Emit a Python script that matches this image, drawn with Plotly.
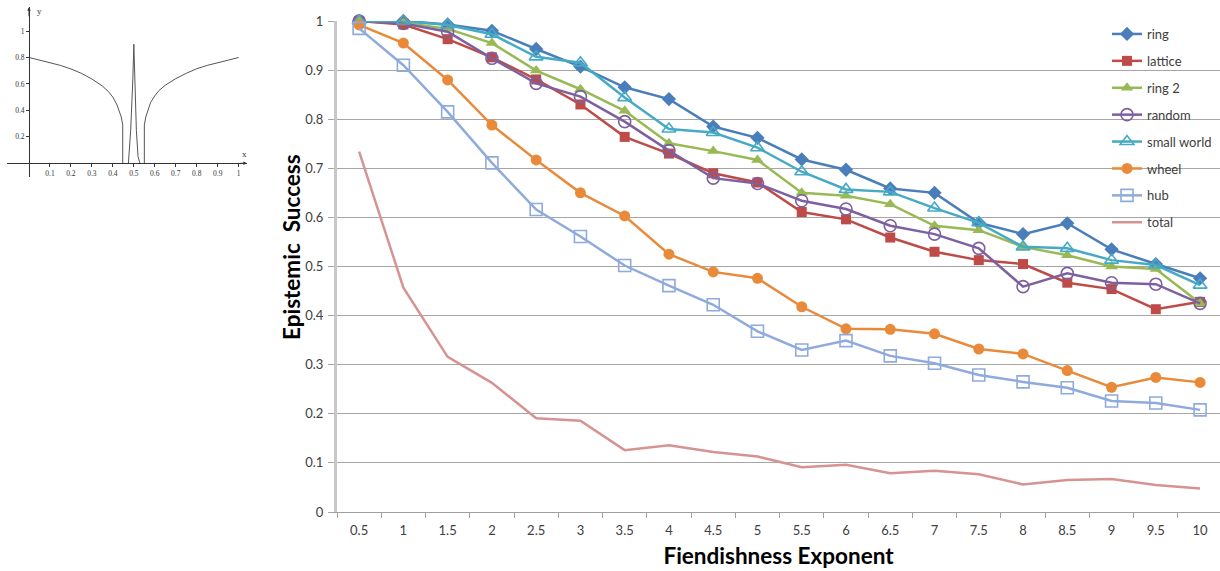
import plotly.graph_objects as go

# ---------------- data ----------------
exponents = ["0.5", "1", "1.5", "2", "2.5", "3", "3.5", "4", "4.5", "5",
             "5.5", "6", "6.5", "7", "7.5", "8", "8.5", "9", "9.5", "10"]

ring = [1.000, 1.000, 0.993, 0.980, 0.943, 0.907, 0.865, 0.841, 0.785, 0.762,
        0.718, 0.697, 0.659, 0.650, 0.589, 0.566, 0.588, 0.535, 0.505, 0.476]
lattice = [1.000, 0.993, 0.963, 0.926, 0.881, 0.830, 0.764, 0.730, 0.690, 0.671,
           0.611, 0.596, 0.559, 0.530, 0.513, 0.505, 0.467, 0.454, 0.413, 0.428]
ring2 = [1.000, 0.997, 0.984, 0.955, 0.899, 0.861, 0.817, 0.751, 0.735, 0.717,
         0.650, 0.644, 0.627, 0.583, 0.574, 0.540, 0.523, 0.500, 0.495, 0.425]
random_ = [1.000, 0.995, 0.978, 0.924, 0.873, 0.846, 0.795, 0.736, 0.680, 0.669,
           0.634, 0.617, 0.583, 0.566, 0.537, 0.459, 0.486, 0.467, 0.464, 0.425]
small_world = [1.000, 1.000, 0.992, 0.973, 0.927, 0.915, 0.844, 0.780, 0.773, 0.742,
               0.693, 0.657, 0.652, 0.619, 0.589, 0.540, 0.537, 0.513, 0.503, 0.462]
wheel = [0.992, 0.955, 0.880, 0.788, 0.717, 0.650, 0.603, 0.525, 0.489, 0.476,
         0.418, 0.373, 0.372, 0.363, 0.332, 0.322, 0.288, 0.254, 0.274, 0.264]
hub = [0.985, 0.910, 0.815, 0.711, 0.616, 0.561, 0.502, 0.461, 0.422, 0.368,
       0.330, 0.349, 0.318, 0.303, 0.279, 0.265, 0.253, 0.226, 0.222, 0.208]
total = [0.734, 0.457, 0.316, 0.263, 0.191, 0.186, 0.126, 0.136, 0.122, 0.113,
         0.091, 0.096, 0.079, 0.084, 0.077, 0.056, 0.065, 0.067, 0.055, 0.048]

# inset function curve
inset_left_x = [0.0, 0.05, 0.1, 0.15, 0.2, 0.25, 0.3, 0.35, 0.38, 0.4, 0.42, 0.43, 0.44, 0.447, 0.447]
inset_left_y = [0.80, 0.78, 0.761, 0.74, 0.713, 0.68, 0.637, 0.584, 0.54, 0.50, 0.44, 0.40, 0.35, 0.29, 0.0]
inset_spike_x = [0.474, 0.485, 0.495, 0.500, 0.505, 0.512, 0.52, 0.529]
inset_spike_y = [0.0, 0.25, 0.63, 0.90, 0.63, 0.25, 0.05, 0.0]
inset_right_x = [0.55, 0.55, 0.557, 0.57, 0.58, 0.6, 0.62, 0.65, 0.7, 0.75, 0.8, 0.85, 0.9, 0.95, 1.0]
inset_right_y = [0.0, 0.29, 0.35, 0.42, 0.46, 0.51, 0.55, 0.59, 0.64, 0.68, 0.715, 0.74, 0.762, 0.78, 0.80]
inset_xticks = [0.1, 0.2, 0.3, 0.4, 0.5, 0.6, 0.7, 0.8, 0.9, 1.0]
inset_yticks = [0.2, 0.4, 0.6, 0.8, 1.0]

W, H = 1220, 571
FONT = "Lato"
TXT = "#404040"

series = [
    ("ring", ring, "#4A7EBB", dict(symbol="diamond", size=11)),
    ("lattice", lattice, "#BE4B48", dict(symbol="square", size=10)),
    ("ring 2", ring2, "#98B954", dict(symbol="triangle-up", size=11)),
    ("random", random_, "#7D60A0", dict(symbol="circle-open", size=12, line=dict(width=1.6))),
    ("small world", small_world, "#46AAC5", dict(symbol="triangle-up-open", size=12, line=dict(width=1.6))),
    ("wheel", wheel, "#E98A3B", dict(symbol="circle", size=11)),
    ("hub", hub, "#8FAADC", dict(symbol="square-open", size=12, line=dict(width=1.6))),
]

fig = go.Figure()
for i, (name, vals, col, mk) in enumerate(series):
    mk = dict(mk)
    mk["color"] = col
    fig.add_trace(go.Scatter(x=exponents, y=vals, name=name, mode="lines+markers",
                             line=dict(color=col, width=2.5), marker=mk,
                             cliponaxis=False, legendgroup=f"g{i}"))
fig.add_trace(go.Scatter(x=exponents, y=total, name="total", mode="lines",
                         line=dict(color="#D69391", width=2.5),
                         cliponaxis=False, legendgroup="g7"))

# inset traces
for xs, ys in [(inset_left_x, inset_left_y), (inset_spike_x, inset_spike_y),
               (inset_right_x, inset_right_y)]:
    fig.add_trace(go.Scatter(x=xs, y=ys, xaxis="x2", yaxis="y2", mode="lines",
                             line=dict(color="#555555", width=1), showlegend=False,
                             hoverinfo="skip"))

px2x = lambda p: p / W
py2y = lambda p: (H - p) / H

fig.update_layout(
    width=W, height=H, autosize=False,
    margin=dict(l=0, r=0, t=0, b=0),
    paper_bgcolor="white", plot_bgcolor="white",
    font=dict(family=FONT, color=TXT, size=13),
    xaxis=dict(
        domain=[px2x(337), 1.0], type="category", range=[-0.5, 19.45],
        showgrid=False, showline=True, linecolor="#A0A0A0", linewidth=1,
        ticks="outside", tickson="boundaries", ticklen=5, tickcolor="#A0A0A0",
        tickfont=dict(size=13, color=TXT, family=FONT), ticklabelstandoff=6,
        title=dict(text="<b>Fiendishness Exponent</b>", font=dict(size=22.5, color="black", family=FONT),
                   standoff=11),
        zeroline=False, anchor="y", automargin=False,
    ),
    yaxis=dict(
        domain=[py2y(512), py2y(21)], range=[0, 1], tick0=0, dtick=0.1,
        showgrid=True, gridcolor="#A6A6A6", gridwidth=1,
        showline=True, linecolor="#C8C8C8", linewidth=3,
        ticks="outside", ticklen=6, tickcolor="#A6A6A6",
        tickfont=dict(size=13, color=TXT, family=FONT), ticklabelstandoff=2,
        zeroline=False, anchor="x", automargin=False,
    ),
    xaxis2=dict(
        domain=[px2x(6.7), px2x(247)], range=[-0.1063, 1.0396],
        anchor="free", position=py2y(163.3),
        showline=True, linecolor="#333333", linewidth=1, showgrid=False, zeroline=False,
        tickvals=inset_xticks, ticktext=[f"{v:g}" for v in inset_xticks],
        ticks="outside", ticklen=3, tickcolor="#333333",
        tickfont=dict(size=7.5, family="Liberation Serif", color="#333333"),
        automargin=False,
    ),
    yaxis2=dict(
        domain=[py2y(177), py2y(6.7)], range=[-0.1036, 1.1837],
        anchor="free", position=px2x(29),
        showline=True, linecolor="#333333", linewidth=1, showgrid=False, zeroline=False,
        tickvals=inset_yticks, ticktext=[f"{v:g}" for v in inset_yticks],
        ticks="outside", ticklen=3, tickcolor="#333333",
        tickfont=dict(size=7.5, family="Liberation Serif", color="#333333"),
        automargin=False,
    ),
    legend=dict(
        x=px2x(1107), y=py2y(19), xanchor="left", yanchor="top",
        font=dict(size=13, color=TXT, family=FONT),
        bgcolor="rgba(0,0,0,0)", borderwidth=0,
        tracegroupgap=7, itemwidth=30,
    ),
    showlegend=True,
)

fig.add_annotation(text="<b>Epistemic  Success</b>", xref="paper", yref="paper",
                   x=px2x(292), y=py2y(247), xanchor="center", yanchor="middle",
                   textangle=-90, showarrow=False,
                   font=dict(size=22.5, color="black", family=FONT))

# inset axis arrows and labels
fig.add_annotation(x=1.039, y=0, ax=1.0, ay=0, xref="x2", yref="y2", axref="x2", ayref="y2",
                   showarrow=True, arrowhead=2, arrowsize=0.7, arrowwidth=1,
                   arrowcolor="#333333", text="")
fig.add_annotation(x=0, y=1.18, ax=0, ay=1.1, xref="x2", yref="y2", axref="x2", ayref="y2",
                   showarrow=True, arrowhead=2, arrowsize=0.7, arrowwidth=1,
                   arrowcolor="#333333", text="")
fig.add_annotation(text="x", x=1.03, y=0.07, xref="x2", yref="y2", showarrow=False,
                   font=dict(size=9, family="Liberation Serif", color="#333333"))
fig.add_annotation(text="y", x=0.05, y=1.15, xref="x2", yref="y2", showarrow=False,
                   font=dict(size=9, family="Liberation Serif", color="#333333"))

fig.write_html("out.html")
